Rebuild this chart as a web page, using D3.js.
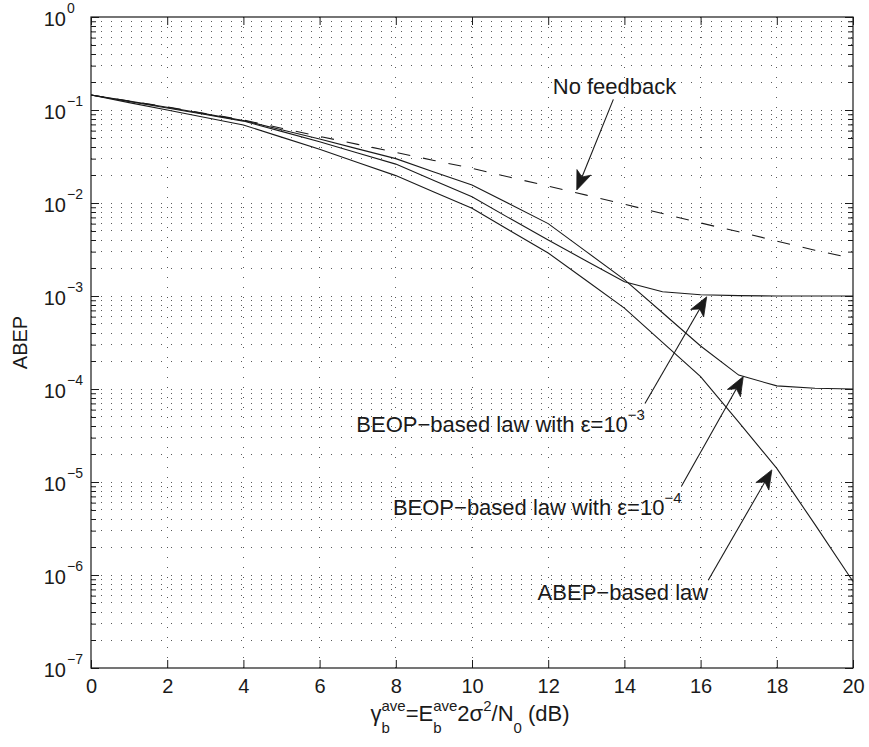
<!DOCTYPE html>
<html>
<head>
<meta charset="utf-8">
<script src="https://cdn.jsdelivr.net/npm/d3@7"></script>
<style>
  body { margin: 0; background: #fff; }
  svg { display: block; font-family: "Liberation Sans", Arial, Helvetica, sans-serif; }
</style>
</head>
<body>
<svg id="chart" width="869" height="747"></svg>
<script>
// ---- data -------------------------------------------------------------
const snrDb = [0, 1, 2, 3, 4, 5, 6, 7, 8, 9, 10, 11, 12, 13, 14, 15, 16, 17, 18, 19, 20];

const noFeedback = [0.145, 0.125, 0.108, 0.0918, 0.078, 0.0637, 0.052, 0.0427, 0.035, 0.0287,
  0.0236, 0.0189, 0.0152, 0.01215, 0.0097, 0.0077, 0.0061, 0.0049, 0.0039, 0.0031, 0.00254];

const beopEps4 = [0.145, 0.1245, 0.107, 0.0908, 0.077, 0.0613, 0.0488, 0.0382, 0.030, 0.0216,
  0.0156, 0.0097, 0.0060, 0.0030, 0.0015, 0.00066, 0.00029, 0.000141, 0.000108, 0.000102, 0.0001];

const beopEps3 = [0.145, 0.1233, 0.105, 0.0893, 0.076, 0.0589, 0.0456, 0.0345, 0.0262, 0.0175,
  0.0117, 0.0068, 0.0040, 0.00238, 0.00142, 0.00111, 0.00103, 0.00101, 0.0010, 0.0010, 0.0010];

const abepLaw = [0.145, 0.120, 0.100, 0.083, 0.069, 0.0511, 0.0378, 0.0273, 0.0197, 0.01315,
  0.00877, 0.00504, 0.0029, 0.00147, 0.00074, 0.000317, 0.000136, 0.000044, 0.000014, 0.0000035, 0.00000085];

const xTickValues = [0, 2, 4, 6, 8, 10, 12, 14, 16, 18, 20];
const yDecadeExponents = [-7, -6, -5, -4, -3, -2, -1, 0];

// ---- layout -----------------------------------------------------------
const W = 869, H = 747;
const m = { top: 17, right: 16, bottom: 79, left: 91 };
const ink = "#1a1a1a";

const svg = d3.select("#chart");
const x = d3.scaleLinear().domain([0, 20]).range([m.left, W - m.right]);
const y = d3.scaleLog().domain([1e-7, 1]).range([H - m.bottom, m.top]);

const yMajor = yDecadeExponents.map(e => Math.pow(10, e));
const yMinor = [];
yDecadeExponents.slice(0, -1).forEach(e => {
  for (let k = 2; k <= 9; k++) yMinor.push(k * Math.pow(10, e));
});

// ---- dotted grid ------------------------------------------------------
const grid = svg.append("g")
  .attr("stroke", "#5a5a5a")
  .attr("stroke-width", 1)
  .attr("stroke-dasharray", "1.2,8.8")
  .attr("shape-rendering", "crispEdges");

grid.selectAll("line.h")
  .data(yMajor.concat(yMinor).filter(v => v > 1e-7 && v < 1))
  .join("line")
  .attr("x1", x(0)).attr("x2", x(20))
  .attr("y1", d => y(d)).attr("y2", d => y(d));

grid.selectAll("line.v")
  .data(xTickValues.filter(v => v > 0 && v < 20))
  .join("line")
  .attr("y1", y(1e-7)).attr("y2", y(1))
  .attr("x1", d => x(d)).attr("x2", d => x(d));

// ---- curves -----------------------------------------------------------
const line = d3.line()
  .x((d, i) => x(snrDb[i]))
  .y(d => y(d));

const curves = svg.append("g").attr("fill", "none").attr("stroke", ink).attr("stroke-width", 1.1);
curves.append("path").attr("d", line(noFeedback)).attr("stroke-dasharray", "13,13");
curves.append("path").attr("d", line(beopEps4));
curves.append("path").attr("d", line(beopEps3));
curves.append("path").attr("d", line(abepLaw));

// ---- axes (ticks pointing inward on all four sides) -------------------
function styleAxis(g) {
  g.select(".domain").remove();
  g.selectAll(".tick line").attr("stroke", ink).attr("stroke-width", 1);
}

svg.append("g").attr("transform", `translate(0,${H - m.bottom})`)
  .call(d3.axisBottom(x).tickValues(xTickValues).tickSize(-8).tickSizeOuter(0).tickFormat(d3.format("d")))
  .call(styleAxis)
  .call(g => g.selectAll(".tick text")
    .attr("y", 25).attr("dy", null)
    .attr("fill", ink)
    .style("font-size", "20px")
    .style("font-family", "\"Liberation Sans\", Arial, Helvetica, sans-serif"));

svg.append("g").attr("transform", `translate(0,${m.top})`)
  .call(d3.axisTop(x).tickValues(xTickValues).tickSize(-8).tickSizeOuter(0).tickFormat(""))
  .call(styleAxis);

svg.append("g").attr("transform", `translate(${m.left},0)`)
  .call(d3.axisLeft(y).tickValues(yMajor).tickSize(-8).tickSizeOuter(0).tickFormat(""))
  .call(styleAxis);
svg.append("g").attr("transform", `translate(${m.left},0)`)
  .call(d3.axisLeft(y).tickValues(yMinor).tickSize(-5).tickSizeOuter(0).tickFormat(""))
  .call(styleAxis);
svg.append("g").attr("transform", `translate(${W - m.right},0)`)
  .call(d3.axisRight(y).tickValues(yMajor).tickSize(-8).tickSizeOuter(0).tickFormat(""))
  .call(styleAxis);
svg.append("g").attr("transform", `translate(${W - m.right},0)`)
  .call(d3.axisRight(y).tickValues(yMinor).tickSize(-5).tickSizeOuter(0).tickFormat(""))
  .call(styleAxis);

// frame
svg.append("rect")
  .attr("x", x(0)).attr("y", y(1))
  .attr("width", x(20) - x(0)).attr("height", y(1e-7) - y(1))
  .attr("fill", "none").attr("stroke", ink).attr("stroke-width", 1.2);

// y tick labels: 10 with superscript exponent
const yLab = svg.append("g").attr("fill", ink);
yDecadeExponents.forEach(e => {
  const ty = y(Math.pow(10, e));
  yLab.append("text")
    .attr("x", m.left - 25).attr("y", ty + 8.5)
    .attr("text-anchor", "end")
    .style("font-size", "20px")
    .text("10");
  yLab.append("text")
    .attr("x", m.left - 24).attr("y", ty - 4)
    .attr("text-anchor", "start")
    .style("font-size", "14px")
    .text(e === 0 ? "0" : "\u2212" + Math.abs(e));
});

// ---- axis titles ------------------------------------------------------
svg.append("text")
  .attr("transform", `translate(27,${(y(1) + y(1e-7)) / 2}) rotate(-90)`)
  .attr("text-anchor", "middle")
  .attr("fill", ink)
  .style("font-size", "20px")
  .text("ABEP");

// x title built piece by piece so sub/superscripts can stack
const xt = svg.append("g").attr("fill", ink);
const base = 721;
let cx = 0;
function put(txt, size, dy) {
  const t = xt.append("text").attr("x", cx).attr("y", base + dy).style("font-size", size + "px").text(txt);
  return t.node().getComputedTextLength();
}
function main(txt) { cx += put(txt, 22, 0); }
function stack(sup, sub) {
  const a = put(sup, 15, -10.5);
  const b = put(sub, 15, 11.5);
  cx += Math.max(a, b);
}
main("\u03b3");
stack("ave", "b");
main("=E");
stack("ave", "b");
main("2\u03c3");
cx += put("2", 15, -10.5);
main("/N");
cx += put("0", 15, 11.5);
main("\u00a0(dB)");
xt.attr("transform", `translate(${470 - cx / 2},0)`);

// ---- annotations ------------------------------------------------------
function arrow(g, tail, tip) {
  const x0 = x(tail[0]), y0 = y(tail[1]), x1 = x(tip[0]), y1 = y(tip[1]);
  const dx = x1 - x0, dy = y1 - y0, L = Math.hypot(dx, dy);
  const ux = dx / L, uy = dy / L, px = -uy, py = ux;
  const hl = 19, hw = 7.5, notch = 5;
  const bx = x1 - ux * hl, by = y1 - uy * hl;
  const nx = x1 - ux * (hl - notch), ny = y1 - uy * (hl - notch);
  g.append("line").attr("x1", x0).attr("y1", y0).attr("x2", nx).attr("y2", ny)
    .attr("stroke", ink).attr("stroke-width", 1.1);
  g.append("path")
    .attr("d", `M${x1},${y1}L${bx + px * hw},${by + py * hw}L${nx},${ny}L${bx - px * hw},${by - py * hw}Z`)
    .attr("fill", ink).attr("stroke", ink).attr("stroke-width", 0.8);
  return [x0, y0];
}

const ann = svg.append("g").attr("fill", ink);

// No feedback
arrow(ann, [13.71, 0.130], [12.75, 0.0138]);
ann.append("text").attr("x", x(12.12)).attr("y", y(0.1486))
  .style("font-size", "22px").text("No feedback");

// epsilon = 1e-3
{
  const [tx] = arrow(ann, [14.54, 7.0e-5], [16.16, 0.00098]);
  const t = ann.append("text").attr("x", tx).attr("y", y(3.45e-5)).attr("text-anchor", "end")
    .style("font-size", "22px");
  t.append("tspan").text("BEOP\u2212based law with \u03b5=10");
  t.append("tspan").attr("dy", -12).style("font-size", "15px").text("\u22123");
}

// epsilon = 1e-4
{
  const [tx] = arrow(ann, [15.50, 9.06e-6], [17.12, 0.000136]);
  const t = ann.append("text").attr("x", tx).attr("y", y(4.42e-6)).attr("text-anchor", "end")
    .style("font-size", "22px");
  t.append("tspan").text("BEOP\u2212based law with \u03b5=10");
  t.append("tspan").attr("dy", -12).style("font-size", "15px").text("\u22124");
}

// ABEP-based law
{
  const [tx] = arrow(ann, [16.20, 8.8e-7], [17.87, 1.35e-5]);
  ann.append("text").attr("x", tx).attr("y", y(5.38e-7)).attr("text-anchor", "end")
    .style("font-size", "22px").text("ABEP\u2212based law");
}
</script>
</body>
</html>
